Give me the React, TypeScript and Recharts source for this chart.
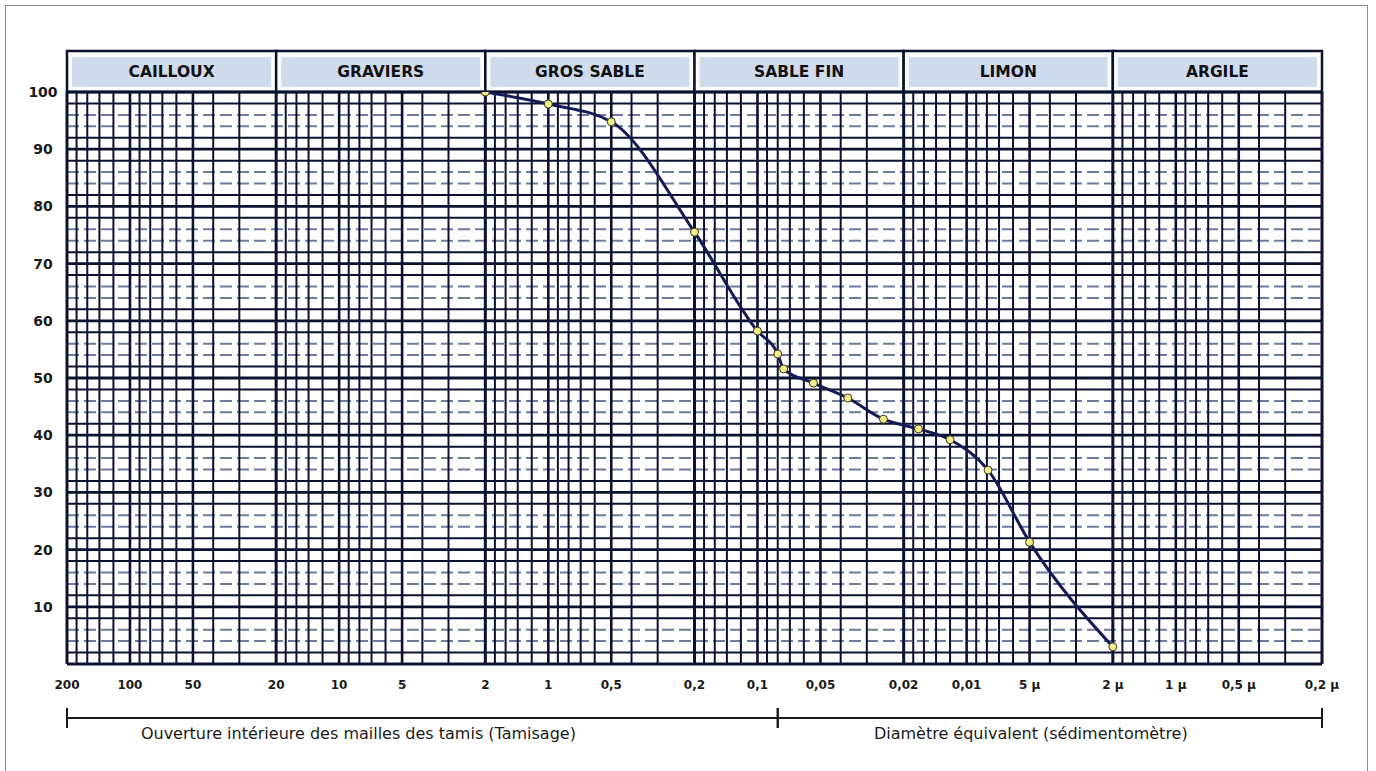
import React from "react";
import {
  ComposedChart, Line, XAxis, YAxis, ReferenceLine, ReferenceArea,
} from "recharts";

// grain size (mm) and percent passing
const diameters = [2, 1, 0.5, 0.2, 0.1, 0.08, 0.075, 0.054, 0.037, 0.025, 0.017, 0.012, 0.0079, 0.005, 0.002];
const passing = [100, 97.9, 94.8, 75.5, 58.2, 54.2, 51.6, 49.1, 46.5, 42.8, 41.1, 39.2, 33.9, 21.3, 3];

const xTicks = [200, 100, 50, 20, 10, 5, 2, 1, 0.5, 0.2, 0.1, 0.05, 0.02, 0.01, 0.005, 0.002, 0.001, 0.0005, 0.0002];
const xTickLabels = ["200", "100", "50", "20", "10", "5", "2", "1", "0,5", "0,2", "0,1", "0,05", "0,02", "0,01", "5 µ", "2 µ", "1 µ", "0,5 µ", "0,2 µ"];
const yTicks = [10, 20, 30, 40, 50, 60, 70, 80, 90, 100];

const classes = ["CAILLOUX", "GRAVIERS", "GROS SABLE", "SABLE FIN", "LIMON", "ARGILE"];
const classBounds = [200, 20, 2, 0.2, 0.02, 0.002, 0.0002];

const methods = ["Ouverture intérieure des mailles des tamis (Tamisage)", "Diamètre équivalent (sédimentomètre)"];
const methodBounds = [200, 0.08, 0.0002];

const decades = [100, 10, 1, 0.1, 0.01, 0.001, 0.0001];
const minorSteps = [1, 1.2, 1.4, 1.6, 1.8, 2, 3, 4, 5, 6, 7, 8, 9];
const hGrid = [0, 2, 4, 6, 8, 10, 12, 14, 16, 18, 20, 22, 24, 26, 28, 30, 32, 34, 36, 38, 40, 42, 44, 46, 48, 50,
  52, 54, 56, 58, 60, 62, 64, 66, 68, 70, 72, 74, 76, 78, 80, 82, 84, 86, 88, 90, 92, 94, 96, 98, 100];

const data = diameters.map((d, i) => ({ d, p: passing[i] }));

const vGrid: { v: number; k: number }[] = [];
decades.forEach((dec) => {
  minorSteps.forEach((k) => {
    const v = +(k * dec).toPrecision(6);
    if (v >= 0.0002 && v <= 200) vGrid.push({ v, k });
  });
});

const NAVY = "#0b1230";
const FONT = "'DejaVu Sans', Verdana, sans-serif";

const XTick = (props: any) => {
  const { x, y, index } = props;
  return (
    <text x={x} y={y + 17} textAnchor="middle" fontFamily={FONT} fontSize={12} fontWeight={600} fill="#1a1a1a">
      {xTickLabels[index]}
    </text>
  );
};

const YTick = (props: any) => {
  const { x, y, payload } = props;
  return (
    <text x={x - 16} y={y + 5} textAnchor="middle" fontFamily={FONT} fontSize={14} fontWeight={600} fill="#1a1a1a">
      {payload.value}
    </text>
  );
};

const HeaderCell = (props: any) => {
  const { x, y, width, height, label } = props;
  return (
    <g>
      <rect x={x} y={y} width={width} height={height} fill="#fff" stroke={NAVY} strokeWidth={2.5} />
      <rect x={x + 5} y={y + 6} width={width - 10} height={height - 11} fill="#cfdbec" />
      <text x={x + width / 2} y={y + height / 2 + 6} textAnchor="middle" fontFamily={FONT}
        fontSize={15.5} fontWeight={700} fill="#111">
        {label}
      </text>
    </g>
  );
};

const Bracket = (props: any) => {
  const { x, y, width, label, frac } = props;
  return (
    <g stroke="#1a1a1a" strokeWidth={2}>
      <line x1={x} y1={y} x2={x + width} y2={y} />
      <line x1={x} y1={y - 10} x2={x} y2={y + 10} />
      <line x1={x + width} y1={y - 10} x2={x + width} y2={y + 10} />
      <text x={x + width * frac} y={y + 21} textAnchor="middle" fontFamily={FONT} fontSize={16}
        fill="#1a1a1a" stroke="none">
        {label}
      </text>
    </g>
  );
};

export default function App() {
  return (
    <div style={{ position: "absolute", left: 0, top: 0, width: 1376, height: 771, overflow: "hidden", background: "#fff" }}>
      <div style={{ position: "absolute", left: 5, top: 5, width: 1361, height: 790, border: "1px solid #8a8a8a" }} />
      <div style={{ position: "absolute", left: 0, top: 0 }}>
        <ComposedChart width={1376} height={771} data={data} margin={{ top: 92, right: 54, bottom: 77, left: 17 }}>
          <XAxis dataKey="d" type="number" scale="log" domain={[0.0002, 200]} reversed allowDataOverflow
            ticks={xTicks} interval={0} axisLine={false} tickLine={false} tick={<XTick />} height={30} />
          <YAxis type="number" domain={[0, 100]} ticks={yTicks} width={50} axisLine={false} tickLine={false}
            tick={<YTick />} allowDataOverflow />

          {hGrid.map((v) => {
            const dashed = v % 10 === 4 || v % 10 === 6;
            return (
              <ReferenceLine key={"h" + v} y={v} stroke={dashed ? "#6e7b9c" : NAVY}
                strokeWidth={v % 10 === 0 ? 2.8 : 2} strokeDasharray={dashed ? "12 5" : undefined} />
            );
          })}
          {vGrid.map(({ v, k }) => (
            <ReferenceLine key={"v" + v} x={v} stroke={NAVY}
              strokeWidth={k === 2 ? 3 : k === 1 || k === 5 ? 2.6 : 2} />
          ))}

          {classes.map((c, i) => (
            <ReferenceArea key={c} x1={classBounds[i]} x2={classBounds[i + 1]} y1={100} y2={107.17}
              ifOverflow="visible" shape={(p: any) => <HeaderCell {...p} label={c} />} />
          ))}
          {methods.map((m, i) => (
            <ReferenceArea key={m} x1={methodBounds[i]} x2={methodBounds[i + 1]} y1={-9.44} y2={-14}
              ifOverflow="visible" shape={(p: any) => <Bracket {...p} label={m} frac={i === 0 ? 0.41 : 0.465} />} />
          ))}

          <Line type="monotone" dataKey="p" stroke="#161a55" strokeWidth={3} isAnimationActive={false}
            dot={{ r: 4, fill: "#f3ee8a", stroke: "#3a3a1a", strokeWidth: 1 }} />
        </ComposedChart>
      </div>
    </div>
  );
}
